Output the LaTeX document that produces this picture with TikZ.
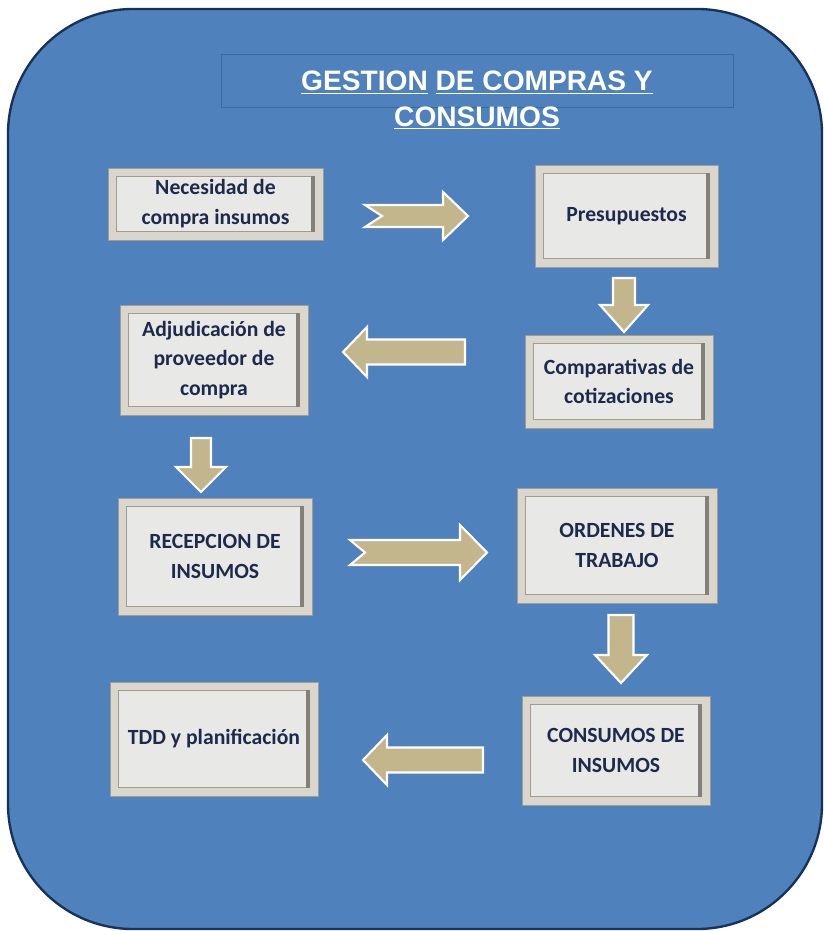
\documentclass[tikz,border=0pt]{standalone}
\usepackage{fontspec}
\setmainfont{Carlito}
\newfontfamily\titulofont{Liberation Sans}
\usepackage{tikz}
\usetikzlibrary{calc}
\definecolor{fondo}{RGB}{79,129,189}
\definecolor{bordefondo}{RGB}{22,50,90}
\definecolor{bordetitulo}{RGB}{58,104,160}
\definecolor{banda}{RGB}{218,214,204}
\definecolor{interior}{RGB}{232,232,230}
\definecolor{marco}{RGB}{160,156,146}
\definecolor{sombra}{RGB}{130,128,120}
\definecolor{textocaja}{RGB}{30,42,75}
\definecolor{flechacol}{RGB}{196,182,140}
\def\flecha[#1](#2)(#3:#4:#5:#6:#7:#8){\filldraw[#1,shift={(#2)},rotate=#3] (0,#5)--({#4-#6},#5)--({#4-#6},#7)--(#4,0)--({#4-#6},-#7)--({#4-#6},-#5)--(0,-#5)--(#8,0)--cycle}

\tikzset{
  caja/.style={draw=marco,line width=0.8pt,fill=banda,text=textocaja,align=center,inner sep=0pt,
    font=\bfseries\fontsize{18.5}{25.5}\selectfont,
    path picture={
      \filldraw[fill=interior,draw=marco,line width=0.6pt] ([shift={(7pt,-7pt)}]path picture bounding box.north west) rectangle ([shift={(-7pt,7pt)}]path picture bounding box.south east);
      \draw[sombra,line width=3pt] ([shift={(-8.5pt,-7pt)}]path picture bounding box.north east)--([shift={(-8.5pt,7pt)}]path picture bounding box.south east);
    }},
  flecha/.style={fill=flechacol,draw=white,line width=1.8pt,line join=miter},
}

\begin{document}
\begin{tikzpicture}[x=0.03cm,y=-0.03cm]
        \useasboundingbox (0,0) rectangle (824,931);
        \draw[fill=fondo,draw=bordefondo,line width=2pt,rounded corners=3.75cm] (8,9) rectangle (822,929);

        \node[draw=bordetitulo,line width=0.6pt,minimum width=15.36cm,minimum height=1.59cm,inner sep=0pt] (cajatitulo) at (477,80.5) {};
        \node[text=white,font=\titulofont\bfseries\fontsize{24}{30}\selectfont,align=center] (titulo) at (477,100) {\underline{GESTION} \underline{DE COMPRAS Y}\\\underline{CONSUMOS}};

        \node[caja,minimum width=6.45cm,minimum height=2.16cm] (necesidad) at (215.5,204) {Necesidad de\\compra insumos};
        \node[caja,minimum width=5.49cm,minimum height=3.06cm] (presupuestos) at (626.5,216) {Presupuestos};
        \node[caja,minimum width=5.64cm,minimum height=3.3cm] (adjudicacion) at (214,360) {Adjudicación de\\proveedor de\\compra};
        \node[caja,minimum width=5.64cm,minimum height=2.79cm] (comparativas) at (619,381.5) {Comparativas de\\cotizaciones};
        \node[caja,minimum width=5.82cm,minimum height=3.51cm] (recepcion) at (215,556.5) {RECEPCION DE\\INSUMOS};
        \node[caja,minimum width=6cm,minimum height=3.45cm] (ordenes) at (617,545.5) {ORDENES DE\\TRABAJO};
        \node[caja,minimum width=6.24cm,minimum height=3.42cm] (tdd) at (214,739) {TDD y planificación};
        \node[caja,minimum width=5.64cm,minimum height=3.27cm] (consumos) at (616,750.5) {CONSUMOS DE\\INSUMOS};

        \coordinate (f1) at (365,216);
        \coordinate (f2) at (465,352);
        \coordinate (f3) at (624,278);
        \coordinate (f4) at (201,438);
        \coordinate (f5) at (350,552.5);
        \coordinate (f6) at (621,615);
        \coordinate (f7) at (483,760);

        \flecha[flecha](f1)(0:103:11:25:24:17);
        \flecha[flecha](f2)(180:122:12.5:24:25:0);
        \flecha[flecha](f3)(-90:54:11:27:24:0);
        \flecha[flecha](f4)(-90:54:10:25:25:0);
        \flecha[flecha](f5)(0:137:12.5:27:27.5:15);
        \flecha[flecha](f6)(-90:68:12.5:28:26:0);
        \flecha[flecha](f7)(180:120:12.5:24:25:0);
    \end{tikzpicture}
\end{document}
